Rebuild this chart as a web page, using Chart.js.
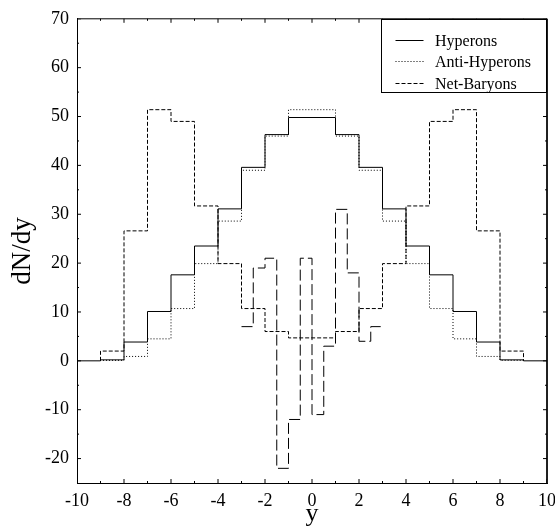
<!DOCTYPE html>
<html>
<head>
<meta charset="utf-8">
<script src="https://cdn.jsdelivr.net/npm/chart.js@4/dist/chart.umd.min.js"></script>
<style>
  html, body { margin: 0; padding: 0; background: #fff; }
  canvas { display: block; }
</style>
</head>
<body>
<canvas id="c" width="555" height="529"></canvas>
<script>
// ---- data ----
const binEdges = [-9,-8,-7,-6,-5,-4,-3,-2,-1,0,1,2,3,4,5,6,7,8,9];
const hyperons = [0.2,3.85,10.1,17.6,23.5,31.1,39.6,46.3,49.8,49.8,46.3,39.6,31.1,23.5,17.6,10.1,3.85,0.2];
const antiHyperons = [0.1,0.9,4.5,10.7,19.9,28.6,39.0,46.0,51.4,51.4,46.0,39.0,28.6,19.9,10.7,4.5,0.9,0.1];
const netBaryons = [2.0,26.6,51.4,49.0,31.7,19.9,10.7,6.0,4.7,4.7,6.0,10.7,19.9,31.7,49.0,51.4,26.6,2.0];
const centralEdges = [-3,-2.5,-2,-1.5,-1,-0.5,0,0.5,1,1.5,2,2.5,3];
const centralValues = [7,19,21,-22,-12,21,-11,3,31,18,4,7];
const xTickLabels = [-10,-8,-6,-4,-2,0,2,4,6,8,10];
const xMinorTicks = [-9,-7,-5,-3,-1,1,3,5,7,9];
const yTickLabels = [-20,-10,0,10,20,30,40,50,60,70];
const yMinorTicks = [-15,-5,5,15,25,35,45,55,65];
const xRange = [-10, 10];
const yRange = [-25, 70];

// histogram -> step points
function histPoints(edges, vals, base, extend) {
  const pts = [];
  if (extend) pts.push({x: extend[0], y: base});
  if (base !== null) pts.push({x: edges[0], y: base});
  for (let i = 0; i < vals.length; i++) pts.push({x: edges[i], y: vals[i]});
  pts.push({x: edges[edges.length - 1], y: vals[vals.length - 1]});
  if (base !== null) pts.push({x: edges[edges.length - 1], y: base});
  if (extend) pts.push({x: extend[1], y: base});
  return pts;
}

const serif = "'Liberation Serif', 'DejaVu Serif', serif";

// inward tick marks drawn as 'line' point markers sitting on the frame (clipped to plot area)
function tickSet(points, radius, rotation) {
  return {
    label: '', data: points, showLine: false, inLegend: false,
    pointStyle: 'line', pointRadius: radius, pointRotation: rotation,
    pointBorderColor: '#000', pointBorderWidth: 1, pointHoverRadius: radius,
    borderColor: '#000', xAxisID: 'x', yAxisID: 'y'
  };
}
const tickDatasets = [
  tickSet(xTickLabels.map(v => ({x: v, y: yRange[0]})), 4, 90),
  tickSet(xTickLabels.map(v => ({x: v, y: yRange[1]})), 4, 90),
  tickSet(xMinorTicks.map(v => ({x: v, y: yRange[0]})), 2, 90),
  tickSet(xMinorTicks.map(v => ({x: v, y: yRange[1]})), 2, 90),
  tickSet(yTickLabels.map(v => ({x: xRange[0], y: v})), 4, 0),
  tickSet(yTickLabels.map(v => ({x: xRange[1], y: v})), 4, 0),
  tickSet(yMinorTicks.map(v => ({x: xRange[0], y: v})), 2, 0),
  tickSet(yMinorTicks.map(v => ({x: xRange[1], y: v})), 2, 0)
];
// top and right frame lines
const frameDataset = {
  label: '', inLegend: false, data: [{x: xRange[0], y: yRange[1]}, {x: xRange[1], y: yRange[1]}, {x: xRange[1], y: yRange[0]}],
  borderColor: '#000', borderWidth: 1, pointRadius: 0, fill: false, tension: 0, clip: 2, xAxisID: 'x', yAxisID: 'y'
};

function seg(ctx, x1, y1, x2, y2) {
  ctx.beginPath();
  ctx.moveTo(x1, y1);
  ctx.lineTo(x2, y2);
  ctx.stroke();
}

const legendPlugin = {
  id: 'boxLegend',
  afterDraw(chart) {
    const ctx = chart.ctx;
    const a = chart.chartArea;
    const R = Math.round(a.right) - 1, T = Math.round(a.top);
    ctx.save();
    const lx = Math.round(a.right - 166);
    const lh = 73;
    ctx.fillStyle = '#ffffff';
    ctx.fillRect(lx, T + 1, R - lx, lh - 1);
    ctx.fillStyle = '#000000';
    ctx.fillRect(lx, T, R - lx + 1, 1);
    ctx.fillRect(R, T, 1, lh + 1);
    ctx.fillRect(lx, T, 1, lh + 1);
    ctx.fillRect(lx, T + lh, R - lx, 1);
    const items = chart.data.datasets.filter(d => d.inLegend);
    ctx.strokeStyle = '#000000';
    ctx.lineWidth = 1;
    ctx.font = '16px ' + serif;
    ctx.textBaseline = 'middle';
    ctx.textAlign = 'left';
    items.forEach((d, i) => {
      const ry = Math.round(T + 21 + i * 21.3) + 0.5;
      ctx.setLineDash(d.borderDash || []);
      seg(ctx, lx + 14.5, ry, lx + 42.5, ry);
      ctx.fillStyle = '#000000';
      ctx.fillText(d.label, lx + 54, ry + 1);
    });
    ctx.restore();
  }
};

const common = {borderColor: '#000', borderWidth: 1, pointRadius: 0, fill: false, stepped: 'before', tension: 0, xAxisID: 'x', yAxisID: 'y'};

new Chart(document.getElementById('c'), {
  type: 'line',
  data: {
    datasets: [
      Object.assign({label: 'Hyperons', data: histPoints(binEdges, hyperons, 0, xRange), borderDash: [], inLegend: true}, common),
      Object.assign({label: 'Anti-Hyperons', data: histPoints(binEdges, antiHyperons, 0, null), borderDash: [1, 2], inLegend: true}, common),
      Object.assign({label: 'Net-Baryons', data: histPoints(binEdges, netBaryons, 0, null), borderDash: [4, 2], inLegend: true}, common),
      Object.assign({label: 'Net-Baryons (central)', data: histPoints(centralEdges, centralValues, null, null), borderDash: [11, 4], inLegend: false}, common),
      frameDataset
    ].concat(tickDatasets)
  },
  options: {
    responsive: false,
    animation: false,
    devicePixelRatio: 1,
    layout: {padding: {top: 15, right: 8, left: 0, bottom: 0}},
    plugins: {legend: {display: false}, tooltip: {enabled: false}},
    scales: {
      x: {
        type: 'linear', min: xRange[0], max: xRange[1],
        grid: {display: false, drawTicks: false}, border: {display: true, color: '#000', width: 1},
        afterBuildTicks: s => { s.ticks = xTickLabels.map(v => ({value: v})); },
        afterFit: s => { s.height = 46; s.paddingLeft = 0; s.paddingRight = 0; },
        ticks: {color: '#000', font: {family: serif, size: 18}, padding: 7, maxRotation: 0, autoSkip: false},
        title: {display: true, text: 'y', color: '#000', font: {family: serif, size: 26, lineHeight: 1}, padding: {top: 0, bottom: 2}}
      },
      y: {
        type: 'linear', min: yRange[0], max: yRange[1],
        grid: {display: false, drawTicks: false}, border: {display: true, color: '#000', width: 1},
        afterBuildTicks: s => { s.ticks = yTickLabels.map(v => ({value: v})); },
        afterFit: s => { s.width = 77; },
        ticks: {color: '#000', font: {family: serif, size: 18}, padding: 8, autoSkip: false},
        title: {display: true, text: 'dN/dy', color: '#000', font: {family: serif, size: 27, lineHeight: 1.2}, padding: {top: 7, bottom: 0}}
      }
    }
  },
  plugins: [legendPlugin]
});
</script>
</body>
</html>
